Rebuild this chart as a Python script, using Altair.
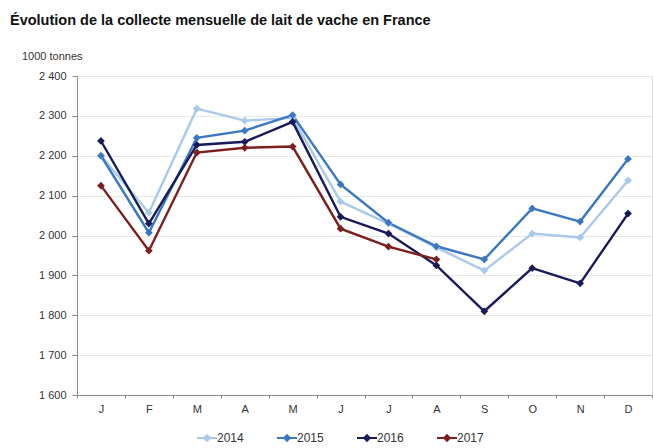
import altair as alt
import pandas as pd

# Monthly cow's milk collection in France (thousand tonnes)
months = ["janvier", "février", "mars", "avril", "mai", "juin",
          "juillet", "août", "septembre", "octobre", "novembre", "décembre"]
years = ["2014", "2015", "2016", "2017"]
collecte_2014 = [2200, 2057, 2318, 2288, 2295, 2085, 2030, 1970, 1912, 2005, 1995, 2138]
collecte_2015 = [2200, 2007, 2245, 2263, 2302, 2128, 2032, 1973, 1940, 2068, 2035, 2192]
collecte_2016 = [2237, 2030, 2227, 2235, 2285, 2047, 2005, 1925, 1810, 1918, 1880, 2055]
collecte_2017 = [2125, 1962, 2208, 2220, 2223, 2017, 1972, 1940]
colors = ["#a9c9ea", "#3b78c1", "#191a5a", "#7d1f1f"]

series = [collecte_2014, collecte_2015, collecte_2016, collecte_2017]
rows = []
for year, values in zip(years, series):
    for month, v in zip(months, values):
        rows.append({"mois": month, "annee": year, "collecte": v})
df = pd.DataFrame(rows)

font = "Liberation Sans"
W, H = 575, 319

# legend glyph: a short line segment with a diamond in the middle
legend_symbol = "M-1,-0.1H1V0.1H-1Z M0,-0.42L0.42,0L0,0.42L-0.42,0Z"

lines = alt.Chart(df).mark_line(
    strokeWidth=2.4,
    point=alt.OverlayMarkDef(shape="diamond", filled=True, size=60),
).encode(
    x=alt.X("mois:N", sort=months, scale=alt.Scale(domain=months, paddingInner=0, paddingOuter=0),
            axis=alt.Axis(title=None,
                          labelExpr="isString(datum.value) ? upper(substring(datum.value, 0, 1)) : ''",
                          tickBand="extent", tickSize=3, tickColor="#8c8c8c",
                          domainColor="#8c8c8c", labelPadding=5, labelFontSize=11,
                          labelColor="#333", labelFont=font, grid=False, labelAngle=0)),
    y=alt.Y("collecte:Q", scale=alt.Scale(domain=[1600, 2400], nice=False, zero=False),
            axis=alt.Axis(title=None, values=list(range(1600, 2401, 100)),
                          labelExpr="replace(format(datum.value, ','), ',', ' ')",
                          tickSize=5, tickColor="#8c8c8c", domainColor="#8c8c8c",
                          labelPadding=6, labelFontSize=11, labelColor="#333", labelFont=font,
                          grid=True, gridColor="#e8e8e8")),
    color=alt.Color("annee:N", scale=alt.Scale(domain=years, range=colors),
                    legend=alt.Legend(title=None, orient="none", direction="horizontal",
                                      legendX=120, legendY=352, columns=4, columnPadding=33,
                                      symbolType=legend_symbol,
                                      symbolSize=400, symbolStrokeWidth=0,
                                      labelFontSize=12, labelFont=font, labelColor="#333",
                                      labelOffset=0)),
    order=alt.Order("annee:N"),
)

header = pd.DataFrame({"t": ["Évolution de la collecte mensuelle de lait de vache en France"]})
title = alt.Chart(header).mark_text(
    align="left", baseline="alphabetic", fontSize=14.5, fontWeight="bold",
    font=font, color="#111"
).encode(x=alt.value(-67), y=alt.value(-51), text="t:N")

unit = pd.DataFrame({"t": ["1000 tonnes"]})
unit_label = alt.Chart(unit).mark_text(
    align="left", baseline="alphabetic", fontSize=11, font=font, color="#333"
).encode(x=alt.value(-55), y=alt.value(-16), text="t:N")

chart = alt.layer(lines, title, unit_label).properties(
    width=W, height=H,
    autosize=alt.AutoSizeParams(type="none"),
    padding={"left": 77, "top": 76, "right": 1, "bottom": 53},
).configure_view(stroke=None).configure(background="white")

chart.save("out.html", embed_options={"renderer": "svg", "actions": False})
